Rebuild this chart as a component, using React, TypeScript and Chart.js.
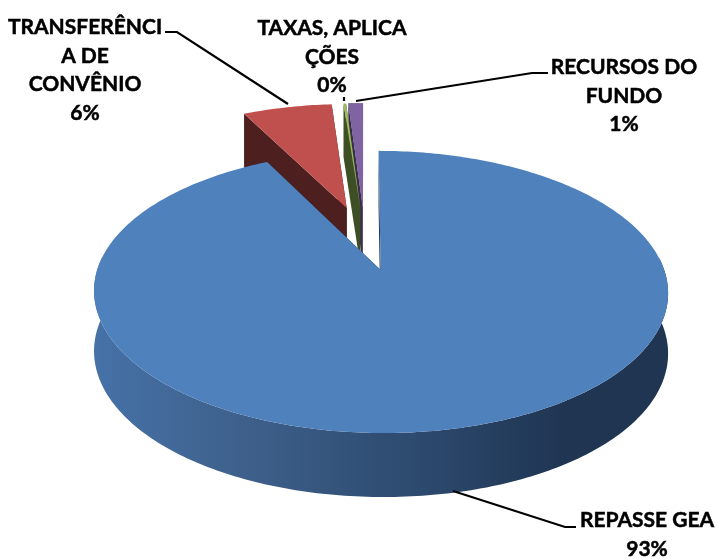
import React, { useEffect, useRef } from "react";
import { Chart, registerables } from "chart.js";

Chart.register(...registerables);

const categories = ["REPASSE GEA", "TRANSFERÊNCIA DE CONVÊNIO", "TAXAS, APLICAÇÕES", "RECURSOS DO FUNDO"];
const values = [92.6, 6.2, 0.18, 1.02];
const topColors = ["#4F81BD", "#C0504D", "#9BBB59", "#8064A2"];
const sideColors = ["#1F3552", "#4D1F1E", "#3F4F25", "#3A2D50"];
const labelLines = [["REPASSE GEA"], ["TRANSFERÊNCI", "A DE", "CONVÊNIO"], ["TAXAS, APLICA", "ÇÕES"], ["RECURSOS DO", "FUNDO"]];
const labelCenters = [[647, 520], [85, 27], [332, 28], [624, 67]];
const lineGap = 28.8;
const leaders = [
  [[453, 491], [565, 527], [576, 527]],
  [[165, 32], [177, 32], [288, 104]],
  [[344, 97], [344, 101]],
  [[356, 101], [532, 73], [548, 73]],
];
const drawOrder = [3, 2, 1, 0];
const explodeBy = [0.24, 0.26, 0.26, 0.26];

// projection of the unit pie plane onto the page
const X0 = 365, Y0 = 239, A = 273.6, B = 128.2, C = 0.15;

function project(u: number, v: number) {
  const w = 1 - C * v;
  return { x: X0 + (A * u) / w, y: Y0 + (B * v) / w, drop: 58.7 + 4.3 * v };
}

const pie3d = {
  id: "pie3d",
  beforeDatasetsDraw(chart: any) {
    const ctx: CanvasRenderingContext2D = chart.ctx;
    const arcs = chart.getDatasetMeta(0).data;
    const grad = ctx.createLinearGradient(93, 0, 668, 0);
    grad.addColorStop(0, "#4672A8");
    grad.addColorStop(0.25, "#3E618C");
    grad.addColorStop(0.6, "#2B476B");
    grad.addColorStop(0.82, "#1F3552");
    grad.addColorStop(1, "#1F3552");

    const faces: Record<number, () => void> = {};
    for (const i of drawOrder) {
      const el = arcs[i];
      const s = el.startAngle, e = el.endAngle;
      const mid = (s + e) / 2;
      const ox = Math.cos(mid) * explodeBy[i], oy = Math.sin(mid) * explodeBy[i];
      const n = Math.max(4, Math.ceil((e - s) * 60));
      const rim: { x: number; y: number; drop: number; t: number }[] = [];
      for (let k = 0; k <= n; k++) {
        const t = s + ((e - s) * k) / n;
        rim.push({ ...project(ox + Math.cos(t), oy + Math.sin(t)), t });
      }
      const apex = project(ox, oy);
      const quad = (p: any) => {
        ctx.beginPath();
        ctx.moveTo(apex.x, apex.y);
        ctx.lineTo(p.x, p.y);
        ctx.lineTo(p.x, p.y + p.drop);
        ctx.lineTo(apex.x, apex.y + apex.drop);
        ctx.closePath();
        ctx.fillStyle = sideColors[i];
        ctx.fill();
      };
      quad(rim[0]);
      quad(rim[n]);

      const front = rim.filter((p) => Math.sin(p.t) > -0.1);
      if (front.length > 1) {
        ctx.beginPath();
        front.forEach((p, k) => (k ? ctx.lineTo(p.x, p.y) : ctx.moveTo(p.x, p.y)));
        [...front].reverse().forEach((p) => ctx.lineTo(p.x, p.y + p.drop));
        ctx.closePath();
        ctx.fillStyle = i === 0 ? grad : sideColors[i];
        ctx.fill();
      }

      faces[i] = () => {
        ctx.beginPath();
        ctx.moveTo(apex.x, apex.y);
        rim.forEach((p) => ctx.lineTo(p.x, p.y));
        ctx.closePath();
        ctx.fillStyle = el.options.backgroundColor;
        ctx.fill();
      };
      faces[i]();
      if (i === 2) faces[3]();
    }

    const total = values.reduce((a, b) => a + b, 0);
    ctx.strokeStyle = "#000";
    ctx.lineWidth = 2.2;
    leaders.forEach((pts) => {
      ctx.beginPath();
      pts.forEach((p, k) => (k ? ctx.lineTo(p[0], p[1]) : ctx.moveTo(p[0], p[1])));
      ctx.stroke();
    });
    ctx.fillStyle = "#000";
    ctx.font = "700 21px Lato";
    ctx.lineWidth = 0.5;
    ctx.textAlign = "center";
    ctx.textBaseline = "middle";
    labelLines.forEach((lines, i) => {
      const [x, y] = labelCenters[i];
      const all = [...lines, `${Math.round((values[i] / total) * 100)}%`];
      all.forEach((t, k) => {
        ctx.fillText(t, x, y + k * lineGap);
        ctx.strokeText(t, x, y + k * lineGap);
      });
    });
    return false;
  },
};

export default function App() {
  const ref = useRef<HTMLCanvasElement>(null);
  useEffect(() => {
    const chart = new Chart(ref.current!, {
      type: "pie",
      data: { labels: categories, datasets: [{ data: values, backgroundColor: topColors, borderWidth: 0 }] },
      options: {
        responsive: false,
        animation: false,
        plugins: { legend: { display: false }, tooltip: { enabled: false } },
      },
      plugins: [pie3d],
    } as any);
    return () => chart.destroy();
  }, []);
  return <canvas ref={ref} width={718} height={559} style={{ position: "absolute", left: 0, top: 0 }} />;
}
